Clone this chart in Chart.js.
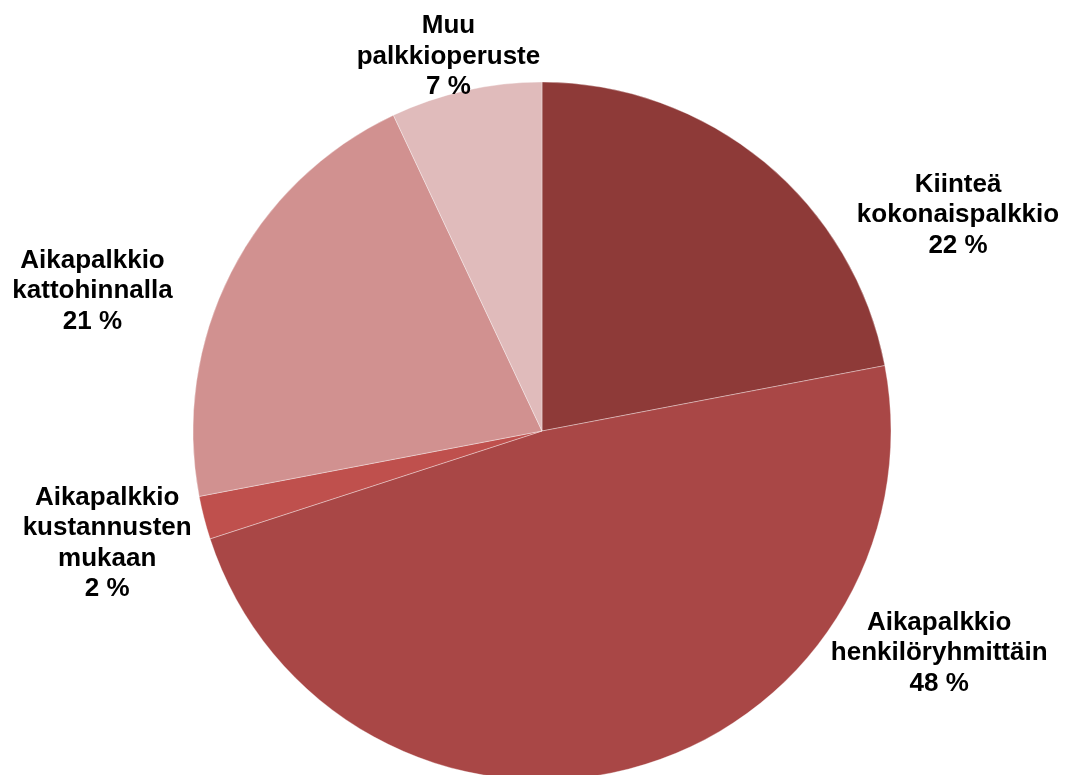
<!DOCTYPE html>
<html>
<head>
<meta charset="utf-8">
<script src="https://cdn.jsdelivr.net/npm/chart.js@4"></script>
<style>
  html, body { margin: 0; padding: 0; background: #fff; overflow: hidden; }
</style>
</head>
<body>
<canvas id="feeChart" width="1067" height="800"></canvas>
<script>
const categories = [
  ["Kiinteä", "kokonaispalkkio"],
  ["Aikapalkkio", "henkilöryhmittäin"],
  ["Aikapalkkio", "kustannusten", "mukaan"],
  ["Aikapalkkio", "kattohinnalla"],
  ["Muu", "palkkioperuste"],
];
const shares = [22, 48, 2, 21, 7];
const colors = ["#8E3A38", "#A94746", "#BF504D", "#D19190", "#E0BBBB"];

// label block centres, as multiples of the radius from the pie centre
const labelSpots = [
  [1.192, -0.626],
  [1.138, 0.629],
  [-1.246, 0.315],
  [-1.288, -0.408],
  [-0.268, -1.079],
];

const labelPlugin = {
  id: "sliceLabels",
  afterDatasetsDraw(chart) {
    const ctx = chart.ctx;
    const arc = chart.getDatasetMeta(0).data[0];
    const cx = arc.x, cy = arc.y, r = arc.outerRadius;
    const lh = 30.5;
    ctx.save();
    ctx.font = "bold 26px 'Liberation Sans', Arial, sans-serif";
    ctx.fillStyle = "#000";
    ctx.textAlign = "center";
    ctx.textBaseline = "alphabetic";
    categories.forEach((lines, i) => {
      const all = lines.concat([shares[i] + " %"]);
      const x = cx + labelSpots[i][0] * r;
      const y = cy + labelSpots[i][1] * r;
      const first = y - (all.length - 1) / 2 * lh + 9.5;
      all.forEach((t, j) => ctx.fillText(t, x, first + j * lh));
    });
    ctx.restore();
  },
};

new Chart(document.getElementById("feeChart"), {
  type: "pie",
  data: {
    labels: categories.map((c) => c.join(" ")),
    datasets: [
      {
        data: shares,
        backgroundColor: colors,
        borderColor: "rgba(255,255,255,0.35)",
        borderWidth: 1,
      },
    ],
  },
  options: {
    responsive: false,
    animation: false,
    radius: 349,
    layout: { padding: { top: 82, bottom: 20, left: 17, right: 0 } },
    plugins: {
      legend: { display: false },
      tooltip: { enabled: false },
    },
  },
  plugins: [labelPlugin],
});
</script>
</body>
</html>
